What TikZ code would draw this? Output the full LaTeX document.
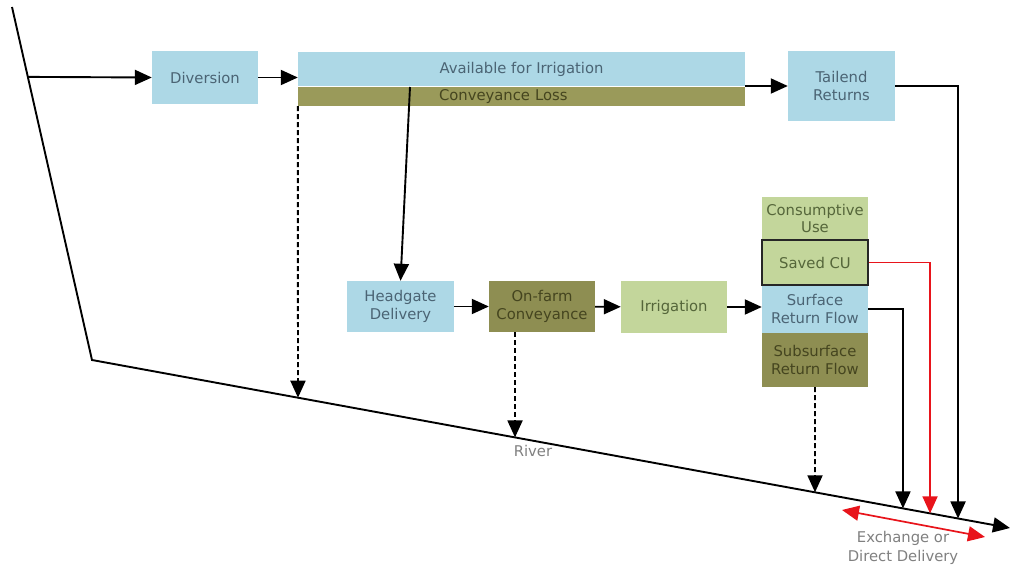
\documentclass[tikz,border=0pt]{standalone}
\usepackage{fontspec}
\setmainfont{DejaVu Sans}
\usetikzlibrary{arrows.meta,calc}
\definecolor{boxblue}{HTML}{ADD8E6}
\definecolor{boxolive}{HTML}{9A9A5A}
\definecolor{boxdark}{HTML}{8E8E52}
\definecolor{boxgreen}{HTML}{C3D69B}
\definecolor{txtblue}{HTML}{4B6474}
\definecolor{txtgreen}{HTML}{55663A}
\definecolor{txtolive}{HTML}{45451F}
\definecolor{flowred}{HTML}{E8141B}
\tikzset{
  flowbox/.style={rectangle, inner sep=0pt, align=center,
    font=\fontsize{14.8}{17.5}\selectfont},
  bluebox/.style={flowbox, fill=boxblue, text=txtblue},
  greenbox/.style={flowbox, fill=boxgreen, text=txtgreen},
  olivebox/.style={flowbox, fill=boxdark, text=txtolive},
  flow/.style={line width=1.9pt, -{Triangle[length=17pt,width=15pt]}},
  lossflow/.style={flow, dash pattern=on 5pt off 3pt},
  redflow/.style={flow, draw=flowred, line width=1.7pt},
  note/.style={text=gray, align=center, font=\fontsize{14.8}{19}\selectfont},
}
\begin{document}
\begin{tikzpicture}[x=1pt,y=-1pt]
  \useasboundingbox (0,0) rectangle (1012,567);

  % river
  \coordinate (src) at (12,7);
  \coordinate (bend) at (92,360);
  \coordinate (mouth) at (1010,528);
  \draw[flow] (src) -- (bend) -- (mouth);
  \path (src) -- (bend) coordinate[pos=0.198] (tap);
  \path (bend) -- (mouth)
     coordinate[pos=0.2244] (rloss)
     coordinate[pos=0.4608] (rfarm)
     coordinate[pos=0.7876] (rsub)
     coordinate[pos=0.8834] (rsurf)
     coordinate[pos=0.9129] (rsaved)
     coordinate[pos=0.9434] (rtail);

  % boxes
  \node[bluebox, minimum width=106, minimum height=53] (div) at (205,77.5) {Diversion};
  \node[bluebox, minimum width=447, minimum height=34] (avail) at (521.5,69) {Available for Irrigation};
  \node[flowbox, fill=boxolive, text=txtolive, minimum width=447, minimum height=19,
        text width=447pt, align=left] (closs) at (521.5,96.5) {\hspace*{141pt}Conveyance Loss};
  \node[bluebox, minimum width=107, minimum height=70] (tail) at (841.5,86) {Tailend\\Returns};
  \node[bluebox, minimum width=107, minimum height=51] (hg) at (400.5,306.5) {Headgate\\Delivery};
  \node[olivebox, minimum width=106, minimum height=51] (onfarm) at (542,306.5) {On-farm\\Conveyance};
  \node[greenbox, minimum width=106, minimum height=52] (irr) at (674,307) {Irrigation};
  \node[greenbox, minimum width=106, minimum height=43] (cu) at (815,218.5) {Consumptive\\Use};
  \node[bluebox, minimum width=106, minimum height=48] (surf) at (815,309) {Surface\\Return Flow};
  \node[olivebox, minimum width=106, minimum height=54] (subsurf) at (815,360) {Subsurface\\Return Flow};
  \node[greenbox, draw=black!85, line width=1.5pt, minimum width=106, minimum height=45] (saved) at (815,262.5) {Saved CU};

  % flows
  \draw[flow] (tap) -- (div.west);
  \draw[flow] (div.east) -- (div.east -| avail.west);
  \draw[flow] (tail.west -| avail.east) -- (tail.west);
  \coordinate (take) at (410,87);
  \draw[flow] (take) -- (hg.north);
  \draw[flow] (hg) -- (onfarm);
  \draw[flow] (onfarm) -- (irr);
  \draw[flow] (irr.east) -- (irr.east -| surf.west);

  % losses to river
  \draw[lossflow] (closs.south west) -- (rloss);
  \draw[lossflow] (onfarm.south -| rfarm) -- (rfarm);
  \draw[lossflow] (subsurf.south) -- (rsub);

  % returns
  \draw[flow] (surf.east) -| (rsurf);
  \draw[redflow] (saved.east) -| (rsaved);
  \draw[flow] (tail.east) -| (rtail);

  \coordinate (exA) at (842,510);
  \coordinate (exB) at (985,537);
  \draw[redflow, {Triangle[length=17pt,width=15pt]}-{Triangle[length=17pt,width=15pt]}] (exA) -- (exB);

  \node[note] (rivername) at (533,451) {River};
  \node[note] (exname) at (903,548) {Exchange or\\Direct Delivery};
\end{tikzpicture}
\end{document}
